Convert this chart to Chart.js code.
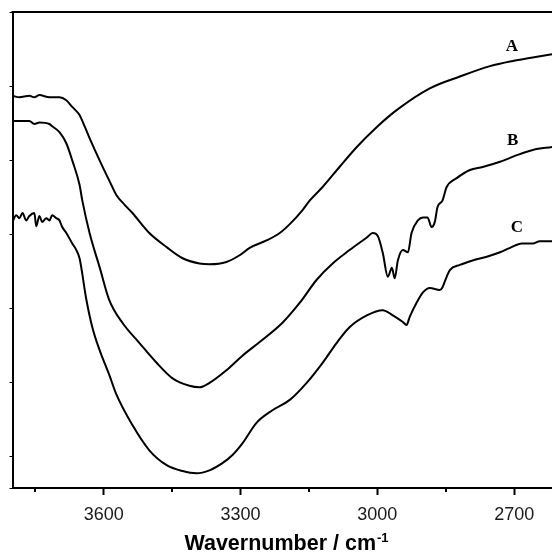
<!DOCTYPE html>
<html>
<head>
<meta charset="utf-8">
<script src="https://cdn.jsdelivr.net/npm/chart.js@4"></script>
<style>
  body { margin: 0; background: #fff; }
  #ir-chart { display: block; }
</style>
</head>
<body>
<canvas id="ir-chart" width="552" height="553"></canvas>
<script>
// spectra (wavenumber in cm-1, transmittance in arbitrary units)
const waveA = [3800, 3785, 3763, 3752, 3741, 3719, 3697, 3682, 3669, 3653, 3642, 3631, 3609, 3588, 3572, 3554, 3537, 3500, 3462, 3427, 3390, 3368, 3331, 3302, 3280, 3243, 3214, 3192, 3164, 3148, 3120, 3083, 3045, 3001, 2957, 2885, 2819, 2753, 2703, 2666, 2617];
const valA = [48.7, 48.5, 48.7, 48.5, 48.8, 48.5, 48.5, 48.1, 47.2, 46.1, 44.6, 43.0, 40.0, 37.3, 35.3, 34.0, 32.9, 30.2, 28.3, 26.8, 26.1, 26.0, 26.3, 27.2, 28.2, 29.2, 30.2, 31.4, 33.3, 34.6, 36.4, 39.1, 41.8, 44.5, 46.8, 49.7, 51.3, 52.7, 53.4, 53.8, 54.3];

const waveB = [3800, 3763, 3752, 3741, 3719, 3713, 3697, 3682, 3669, 3653, 3647, 3631, 3609, 3588, 3559, 3522, 3484, 3449, 3412, 3390, 3368, 3331, 3295, 3258, 3208, 3170, 3133, 3098, 3061, 3023, 3010, 2999, 2988, 2977, 2968, 2962, 2955, 2944, 2933, 2925, 2911, 2900, 2890, 2881, 2874, 2868, 2857, 2848, 2826, 2797, 2769, 2731, 2694, 2659, 2617];
const valB = [45.3, 45.3, 44.9, 45.1, 44.9, 44.6, 43.8, 42.3, 40.0, 36.7, 34.6, 30.2, 25.6, 21.2, 18.1, 15.4, 12.7, 10.6, 9.6, 9.4, 10.0, 11.7, 13.7, 15.5, 18.1, 20.8, 23.9, 26.1, 27.9, 29.6, 30.2, 29.8, 27.5, 24.3, 25.5, 24.1, 26.5, 27.9, 27.6, 30.2, 31.9, 32.3, 32.3, 31.0, 31.7, 33.7, 34.6, 36.4, 37.6, 38.7, 39.1, 39.8, 40.7, 41.4, 41.8];

const waveC = [3800, 3792, 3785, 3778, 3770, 3763, 3752, 3748, 3741, 3735, 3726, 3719, 3713, 3704, 3697, 3691, 3682, 3669, 3660, 3653, 3638, 3625, 3609, 3588, 3572, 3537, 3500, 3462, 3427, 3397, 3368, 3339, 3317, 3295, 3265, 3230, 3192, 3155, 3120, 3089, 3061, 3023, 2988, 2966, 2944, 2936, 2929, 2914, 2900, 2885, 2863, 2857, 2848, 2841, 2819, 2791, 2760, 2731, 2709, 2683, 2659, 2644, 2617];
const valC = [31.7, 32.6, 32.2, 32.9, 31.9, 32.5, 32.9, 31.1, 32.5, 31.7, 32.2, 31.9, 32.6, 32.2, 31.9, 31.0, 30.2, 28.8, 27.9, 26.8, 21.2, 17.5, 14.4, 11.1, 8.4, 4.3, 0.9, -1.1, -1.9, -2.2, -1.8, -0.8, 0.3, 1.9, 4.6, 6.3, 7.7, 10.0, 12.7, 15.4, 17.5, 19.1, 19.8, 19.1, 18.2, 17.8, 18.9, 20.8, 22.2, 22.8, 22.5, 22.9, 24.3, 25.2, 25.9, 26.5, 27.0, 27.6, 28.2, 28.8, 28.8, 29.1, 29.1];

const curveNames = ['A', 'B', 'C'];
const nameWave = [2705, 2703, 2694];
const nameVal = [55.3, 42.7, 30.9];

const majorTicks = [3600, 3300, 3000, 2700];
const minorTicks = [3750, 3450, 3150, 2850];

function toPoints(xs, ys) {
  return xs.map((x, i) => ({ x: x, y: ys[i] }));
}

const lineStyle = {
  borderColor: '#000',
  borderWidth: 2,
  pointRadius: 0,
  cubicInterpolationMode: 'monotone',
  fill: false
};

const decorations = {
  id: 'decorations',
  afterDraw(chart) {
    const { ctx, chartArea, scales } = chart;
    const xs = scales.x, ys = scales.y;
    ctx.save();
    ctx.strokeStyle = '#000';

    // top frame line
    ctx.lineWidth = 2;
    ctx.beginPath();
    ctx.moveTo(chartArea.left - 1, chartArea.top);
    ctx.lineTo(chartArea.right + 2, chartArea.top);
    ctx.stroke();

    // short minor ticks below the axis
    minorTicks.forEach(v => {
      const px = Math.round(xs.getPixelForValue(v));
      ctx.beginPath();
      ctx.moveTo(px, chartArea.bottom);
      ctx.lineTo(px, chartArea.bottom + 4);
      ctx.stroke();
    });

    // curve names
    ctx.fillStyle = '#000';
    ctx.font = 'bold 17px "Liberation Serif", "Times New Roman", serif';
    ctx.textAlign = 'center';
    ctx.textBaseline = 'middle';
    curveNames.forEach((name, i) => {
      ctx.fillText(name, xs.getPixelForValue(nameWave[i]), ys.getPixelForValue(nameVal[i]));
    });

    // axis title with superscript
    const main = 'Wavernumber / cm';
    const sup = '-1';
    ctx.font = 'bold 21.5px "Liberation Sans", Arial, sans-serif';
    const w1 = ctx.measureText(main).width;
    ctx.font = 'bold 13px "Liberation Sans", Arial, sans-serif';
    const w2 = ctx.measureText(sup).width;
    const startX = 286 - (w1 + w2) / 2;
    const baseY = 550;
    ctx.textAlign = 'left';
    ctx.textBaseline = 'alphabetic';
    ctx.font = 'bold 21.5px "Liberation Sans", Arial, sans-serif';
    ctx.fillText(main, startX, baseY);
    ctx.font = 'bold 13px "Liberation Sans", Arial, sans-serif';
    ctx.fillText(sup, startX + w1 + 1, baseY - 8);
    ctx.restore();
  }
};

const chart = new Chart(document.getElementById('ir-chart').getContext('2d'), {
  type: 'line',
  data: {
    datasets: [
      { label: 'A', data: toPoints(waveA, valA), ...lineStyle },
      { label: 'B', data: toPoints(waveB, valB), ...lineStyle },
      { label: 'C', data: toPoints(waveC, valC), ...lineStyle }
    ]
  },
  options: {
    responsive: false,
    devicePixelRatio: 1,
    animation: false,
    layout: { padding: { left: 0, top: 12, right: 0, bottom: 0 } },
    plugins: {
      legend: { display: false },
      tooltip: { enabled: false }
    },
    scales: {
      x: {
        type: 'linear',
        reverse: true,
        min: 2617,
        max: 3800,
        border: { display: true, color: '#000', width: 2 },
        grid: {
          drawOnChartArea: false,
          drawTicks: true,
          tickLength: 7,
          tickWidth: 2,
          tickColor: '#000'
        },
        afterBuildTicks: axis => {
          axis.ticks = majorTicks.map(v => ({ value: v }));
        },
        afterFit: axis => {
          axis.height = 65;
        },
        ticks: {
          color: '#1a1a1a',
          font: { family: '"Liberation Sans", Arial, sans-serif', size: 18 },
          padding: 9,
          maxRotation: 0,
          autoSkip: false,
          callback: v => String(v)
        }
      },
      y: {
        min: -4.18,
        max: 60,
        border: { display: true, color: '#000', width: 2 },
        grid: {
          drawOnChartArea: false,
          drawTicks: true,
          tickLength: 3,
          tickWidth: 1,
          tickColor: '#000'
        },
        afterFit: axis => {
          axis.width = 12.5;
        },
        ticks: { display: false, stepSize: 10 }
      }
    }
  },
  plugins: [decorations]
});
</script>
</body>
</html>
